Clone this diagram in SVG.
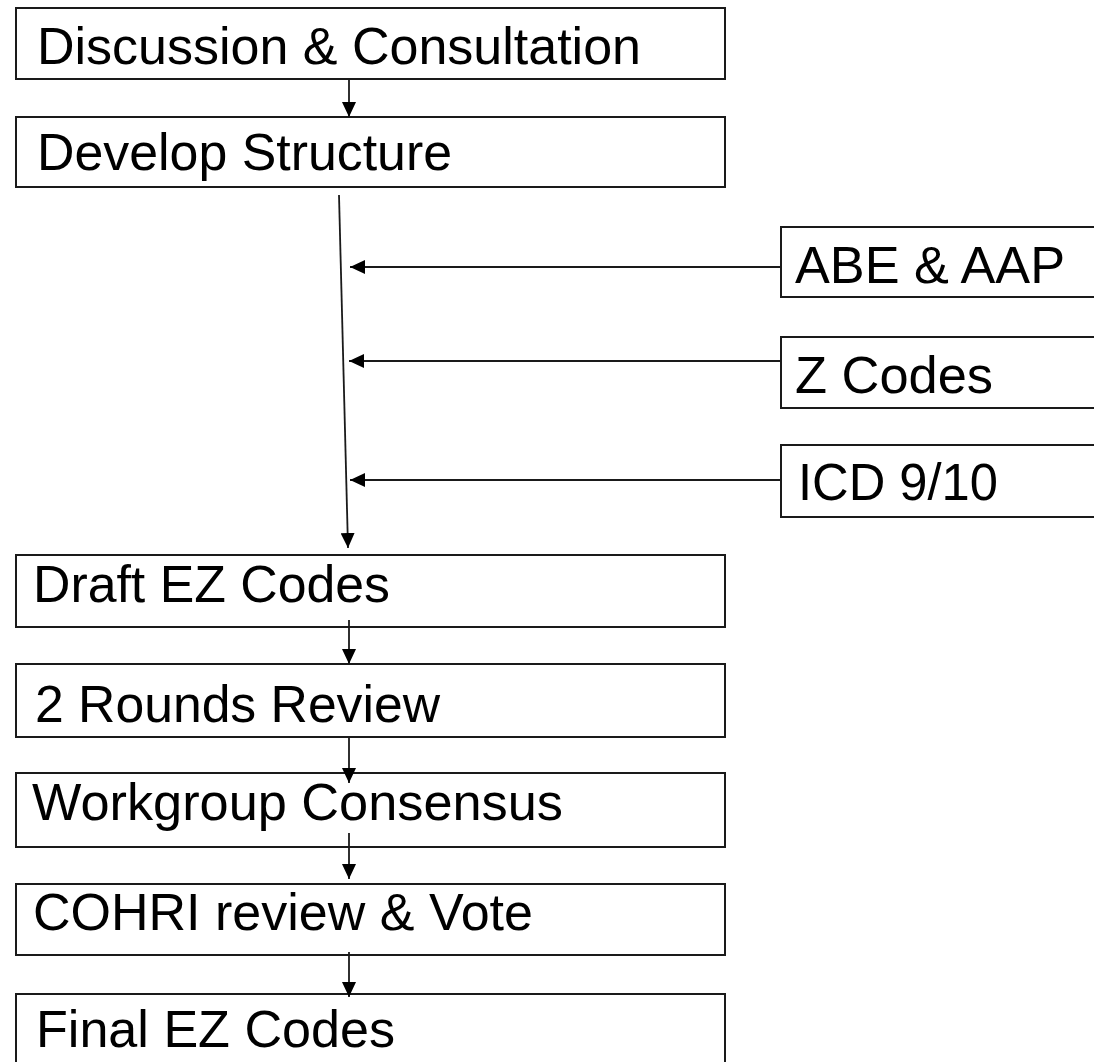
<svg xmlns="http://www.w3.org/2000/svg" width="1094" height="1062" viewBox="0 0 1094 1062">
  <style>
    .box { fill: #ffffff; stroke: #1a1a1a; stroke-width: 2; }
    .lbl { font-family: "Liberation Sans", Arial, sans-serif; font-size: 52px; fill: #000000; }
    .link { stroke: #1a1a1a; stroke-width: 1.8; fill: none; marker-end: url(#head); }
  </style>
  <defs>
    <marker id="head" markerUnits="userSpaceOnUse" markerWidth="15" markerHeight="14" refX="15" refY="7" orient="auto">
      <path d="M0,0 L15,7 L0,14 z" fill="#000000"/>
    </marker>
  </defs>
  <rect width="1094" height="1062" fill="#ffffff"/>

  <!-- process steps -->
  <g id="n-discussion">
    <rect class="box" x="16" y="8" width="709" height="71"/>
    <text class="lbl" x="37" y="64" textLength="604" lengthAdjust="spacingAndGlyphs">Discussion &amp; Consultation</text>
  </g>
  <g id="n-develop">
    <rect class="box" x="16" y="117" width="709" height="70"/>
    <text class="lbl" x="37" y="170" textLength="415" lengthAdjust="spacingAndGlyphs">Develop Structure</text>
  </g>
  <g id="n-draft">
    <rect class="box" x="16" y="555" width="709" height="72"/>
    <text class="lbl" x="33" y="602" textLength="357" lengthAdjust="spacingAndGlyphs">Draft EZ Codes</text>
  </g>
  <g id="n-rounds">
    <rect class="box" x="16" y="664" width="709" height="73"/>
    <text class="lbl" x="35" y="722" textLength="405" lengthAdjust="spacingAndGlyphs">2 Rounds Review</text>
  </g>
  <g id="n-workgroup">
    <rect class="box" x="16" y="773" width="709" height="74"/>
    <text class="lbl" x="32" y="820" textLength="531" lengthAdjust="spacingAndGlyphs">Workgroup Consensus</text>
  </g>
  <g id="n-cohri">
    <rect class="box" x="16" y="884" width="709" height="71"/>
    <text class="lbl" x="33" y="930" textLength="500" lengthAdjust="spacingAndGlyphs">COHRI review &amp; Vote</text>
  </g>
  <g id="n-final">
    <rect class="box" x="16" y="994" width="709" height="90"/>
    <text class="lbl" x="36" y="1047" textLength="359" lengthAdjust="spacingAndGlyphs">Final EZ Codes</text>
  </g>

  <!-- inputs -->
  <g id="n-abe">
    <rect class="box" x="781" y="227" width="340" height="70"/>
    <text class="lbl" x="795" y="283" textLength="270" lengthAdjust="spacingAndGlyphs">ABE &amp; AAP</text>
  </g>
  <g id="n-zcodes">
    <rect class="box" x="781" y="337" width="340" height="71"/>
    <text class="lbl" x="795" y="393" textLength="198" lengthAdjust="spacingAndGlyphs">Z Codes</text>
  </g>
  <g id="n-icd">
    <rect class="box" x="781" y="445" width="340" height="72"/>
    <text class="lbl" x="798" y="500" textLength="200" lengthAdjust="spacingAndGlyphs">ICD 9/10</text>
  </g>

  <!-- connectors -->
  <g id="connectors">
    <line class="link" x1="349" y1="79" x2="349" y2="117"/>
    <line class="link" x1="339" y1="195" x2="348" y2="548"/>
    <line class="link" x1="780" y1="267" x2="350" y2="267"/>
    <line class="link" x1="780" y1="361" x2="349" y2="361"/>
    <line class="link" x1="780" y1="480" x2="350" y2="480"/>
    <line class="link" x1="349" y1="620" x2="349" y2="664"/>
    <line class="link" x1="349" y1="738" x2="349" y2="783"/>
    <line class="link" x1="349" y1="833" x2="349" y2="879"/>
    <line class="link" x1="349" y1="952" x2="349" y2="997"/>
  </g>
</svg>
